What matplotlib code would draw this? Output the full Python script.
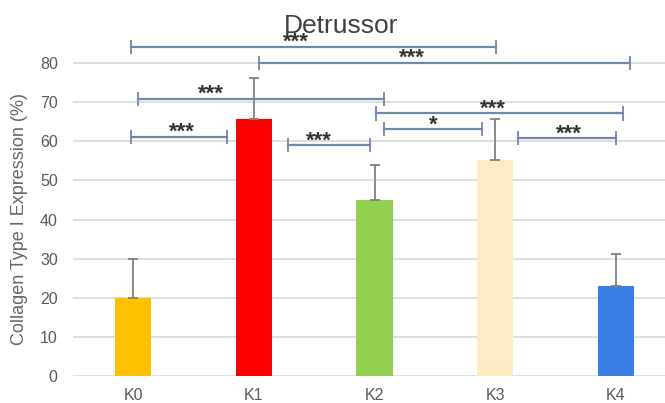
import numpy as np
import matplotlib
matplotlib.use("Agg")
import matplotlib.pyplot as plt
from matplotlib.transforms import offset_copy

plt.rcParams['font.family'] = ['Liberation Sans', 'DejaVu Sans']

groups = ["K0", "K1", "K2", "K3", "K4"]
means = [20.0, 65.6, 45.0, 55.3, 23.0]
sds = [10.0, 10.6, 9.0, 10.5, 8.3]
colors = ["#FFC000", "#FF0000", "#92D050", "#FFEBC4", "#3A7EE4"]

# significance brackets: ends (in group units), height, stars, star position
sig_left = [-0.02, 1.04, 0.04, 2.01, 2.08, 3.19, -0.02, 1.28]
sig_right = [3.01, 4.12, 2.08, 4.06, 2.89, 4.00, 0.78, 1.96]
sig_height = [84.1, 80.0, 70.8, 67.1, 63.1, 60.8, 61.1, 59.0]
sig_text = ["***", "***", "***", "***", "*", "***", "***", "***"]
sig_text_x = [1.35, 2.31, 0.64, 2.98, 2.49, 3.61, 0.40, 1.54]


def main():
    fig = plt.figure(figsize=(6.65, 4.03), dpi=100)
    ax = fig.add_axes([0.1098, 0.067, 0.9068, 0.8543])

    x = np.arange(len(groups))
    ax.bar(x, means, width=0.3, color=colors, zorder=2)
    ax.errorbar(x, means, yerr=[np.zeros(len(sds)), sds], fmt="none",
                ecolor="#808080", elinewidth=1.3, capsize=3.5, capthick=1.3,
                zorder=3)

    ax.set_xlim(-0.5, 4.5)
    ax.set_ylim(0, 88)
    ax.set_yticks(np.arange(0, 81, 10))
    ax.set_xticks(x)
    ax.set_xticklabels(groups)
    ax.yaxis.grid(True, color="#d9d9d9", lw=1.2, zorder=0)
    ax.set_axisbelow(True)
    for s in ax.spines.values():
        s.set_visible(False)
    ax.tick_params(axis="y", length=0, pad=11, labelsize=11.5, labelcolor="#595959")
    ax.tick_params(axis="x", length=0, pad=9, labelsize=11.5, labelcolor="#595959")

    ax.set_ylabel("Collagen Type I Expression (%)", fontsize=13, color="#666666")
    ax.yaxis.set_label_coords(-0.074, 0.456)

    fig.text(0.513, 0.918, "Detrussor", ha="center", va="baseline",
             fontsize=19, color="#404040")

    bc = "#7086AD"
    star_tr = offset_copy(ax.transData, fig=fig, y=-0.8, units="points")
    for l, r, h, t, tx in zip(sig_left, sig_right, sig_height, sig_text, sig_text_x):
        ax.plot([l, r], [h, h], color=bc, lw=1.6, clip_on=False, zorder=4)
        ax.vlines([l, r], h - 1.8, h + 1.8, color=bc, lw=1.3, clip_on=False, zorder=4)
        ax.text(tx, h, t, transform=star_tr, ha="center", va="baseline",
                fontsize=16, fontweight="bold", color="#333333", zorder=5)

    plt.savefig("out.png", dpi=100)


if __name__ == '__main__':
    main()
